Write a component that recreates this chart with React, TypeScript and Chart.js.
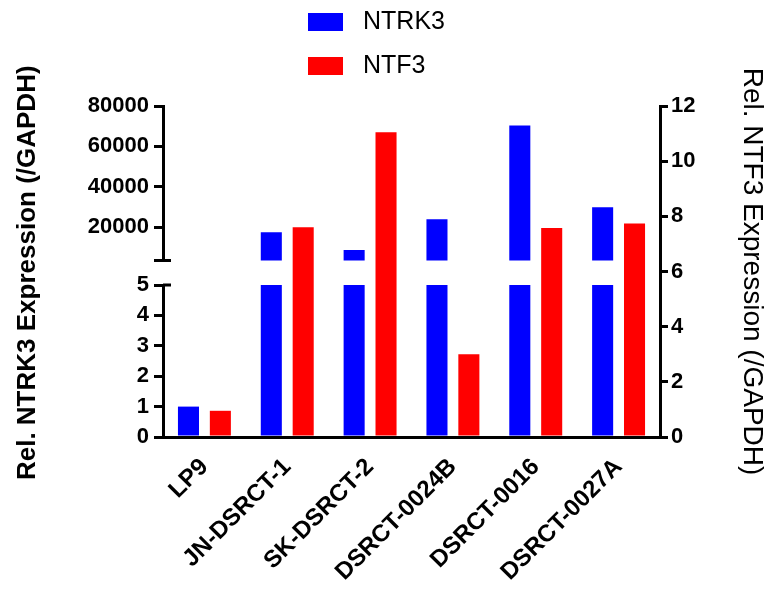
import React, { useEffect, useRef } from "react";
import { Chart, registerables } from "chart.js";

Chart.register(...registerables);

const categories = ["LP9", "JN-DSRCT-1", "SK-DSRCT-2", "DSRCT-0024B", "DSRCT-0016", "DSRCT-0027A"];
const ntrk3Values = [1.0, 17500, 8700, 23900, 70400, 29900];
const ntf3Values = [0.95, 7.6, 11.05, 3.0, 7.58, 7.74];
const seriesNames = ["NTRK3", "NTF3"];
const seriesColors = ["#0000FF", "#FF0000"];
const lowerTicks = [0, 1, 2, 3, 4, 5];
const upperTicks = [20000, 40000, 60000, 80000];
const rightTicks = [0, 2, 4, 6, 8, 10, 12];
const lowerMin = 0;
const lowerMax = 5;
const upperMin = 3500;
const upperMax = 80000;
const rightMin = 0;
const rightMax = 12;
const leftTitle = "Rel. NTRK3 Expression (/GAPDH)";
const rightTitle = "Rel. NTF3 Expression (/GAPDH)";

const FONT = "'Liberation Sans', Arial, Helvetica, sans-serif";

const decorPlugin = {
  id: "decor",
  afterDraw(chart: any) {
    const ctx = chart.ctx;
    const lo = chart.scales.yLow;
    const hi = chart.scales.yHigh;
    const ax = lo.right;
    ctx.save();
    ctx.strokeStyle = "#000";
    ctx.lineWidth = 3;
    ctx.beginPath();
    ctx.moveTo(ax - 9, hi.bottom);
    ctx.lineTo(ax + 8, hi.bottom);
    ctx.moveTo(ax, lo.top);
    ctx.lineTo(ax + 8, lo.top);
    ctx.stroke();
    ctx.font = `25px ${FONT}`;
    ctx.textBaseline = "middle";
    ctx.textAlign = "left";
    seriesNames.forEach((name, i) => {
      const y = 14 + i * 44;
      ctx.fillStyle = seriesColors[i];
      ctx.fillRect(300, y - 9, 35, 18);
      ctx.fillStyle = "#000";
      ctx.fillText(name, 355, y);
    });
    ctx.restore();
  },
};

export default function App() {
  const ref = useRef<HTMLCanvasElement>(null);
  useEffect(() => {
    const tickFont = { family: FONT, size: 22, weight: "bold" as const };
    const chart = new Chart(ref.current!, {
      type: "bar",
      data: {
        labels: categories,
        datasets: [
          {
            label: seriesNames[0],
            data: ntrk3Values.map((v) => Math.min(v, lowerMax)),
            backgroundColor: seriesColors[0],
            yAxisID: "yLow",
            stack: "ntrk3",
            categoryPercentage: 0.77,
            barPercentage: 0.66,
          },
          {
            label: seriesNames[0] + " upper",
            data: ntrk3Values.map((v) => (v > lowerMax ? v : null)),
            backgroundColor: seriesColors[0],
            yAxisID: "yHigh",
            stack: "ntrk3",
            categoryPercentage: 0.77,
            barPercentage: 0.66,
          },
          {
            label: seriesNames[1],
            data: ntf3Values,
            backgroundColor: seriesColors[1],
            yAxisID: "y2",
            stack: "ntf3",
            categoryPercentage: 0.77,
            barPercentage: 0.66,
          },
        ],
      },
      options: {
        responsive: false,
        animation: false,
        layout: { padding: { top: 98, left: 0, right: 0, bottom: 0 } },
        plugins: { legend: { display: false }, tooltip: { enabled: false } },
        scales: {
          x: {
            grid: { display: false },
            border: { display: true, color: "#000", width: 3 },
            ticks: {
              color: "#000",
              font: { family: FONT, size: 24, weight: "bold" },
              maxRotation: 45,
              minRotation: 45,
              autoSkip: false,
              padding: 8,
            },
            afterFit: (s: any) => {
              s.height = 145;
            },
          },
          yHigh: {
            type: "linear",
            position: "left",
            stack: "left",
            stackWeight: 154.5,
            weight: 3,
            stacked: false,
            min: upperMin,
            max: upperMax,
            afterBuildTicks: (s: any) => {
              s.ticks = upperTicks.map((v) => ({ value: v }));
            },
            grid: { drawOnChartArea: false, color: "#000", lineWidth: 3, tickLength: 9 },
            border: { display: true, color: "#000", width: 3 },
            ticks: { color: "#000", font: tickFont, padding: 5, autoSkip: false, callback: (v: any) => String(v) },
            afterFit: (s: any) => {
              s.width = 155;
            },
          },
          yGap: {
            type: "linear",
            position: "left",
            stack: "left",
            stackWeight: 24.5,
            weight: 2,
            min: 0,
            max: 1,
            grid: { display: false },
            border: { display: false },
            ticks: { display: false },
            title: {
              display: true,
              text: leftTitle,
              color: "#000",
              font: { family: FONT, size: 26, weight: "bold" },
              padding: { top: 4, bottom: 4 },
            },
            afterFit: (s: any) => {
              s.width = 155;
            },
          },
          yLow: {
            type: "linear",
            position: "left",
            stack: "left",
            stackWeight: 152,
            weight: 1,
            stacked: false,
            min: lowerMin,
            max: lowerMax,
            afterBuildTicks: (s: any) => {
              s.ticks = lowerTicks.map((v) => ({ value: v }));
            },
            grid: { drawOnChartArea: false, color: "#000", lineWidth: 3, tickLength: 9 },
            border: { display: true, color: "#000", width: 3 },
            ticks: { color: "#000", font: tickFont, padding: 5, autoSkip: false, callback: (v: any) => String(v) },
            afterFit: (s: any) => {
              s.width = 155;
            },
          },
          y2: {
            type: "linear",
            position: "right",
            stacked: false,
            min: rightMin,
            max: rightMax,
            afterBuildTicks: (s: any) => {
              s.ticks = rightTicks.map((v) => ({ value: v }));
            },
            grid: { drawOnChartArea: false, color: "#000", lineWidth: 3, tickLength: 8 },
            border: { display: true, color: "#000", width: 3 },
            ticks: { color: "#000", font: tickFont, padding: 3, autoSkip: false, callback: (v: any) => String(v) },
            title: {
              display: true,
              text: rightTitle,
              color: "#000",
              font: { family: FONT, size: 28, weight: "normal" },
              padding: { top: 4, bottom: 4 },
            },
            afterFit: (s: any) => {
              s.width = 113;
            },
          },
        },
      },
      plugins: [decorPlugin],
    } as any);
    return () => chart.destroy();
  }, []);
  return <canvas ref={ref} width={765} height={574} style={{ display: "block" }} />;
}
